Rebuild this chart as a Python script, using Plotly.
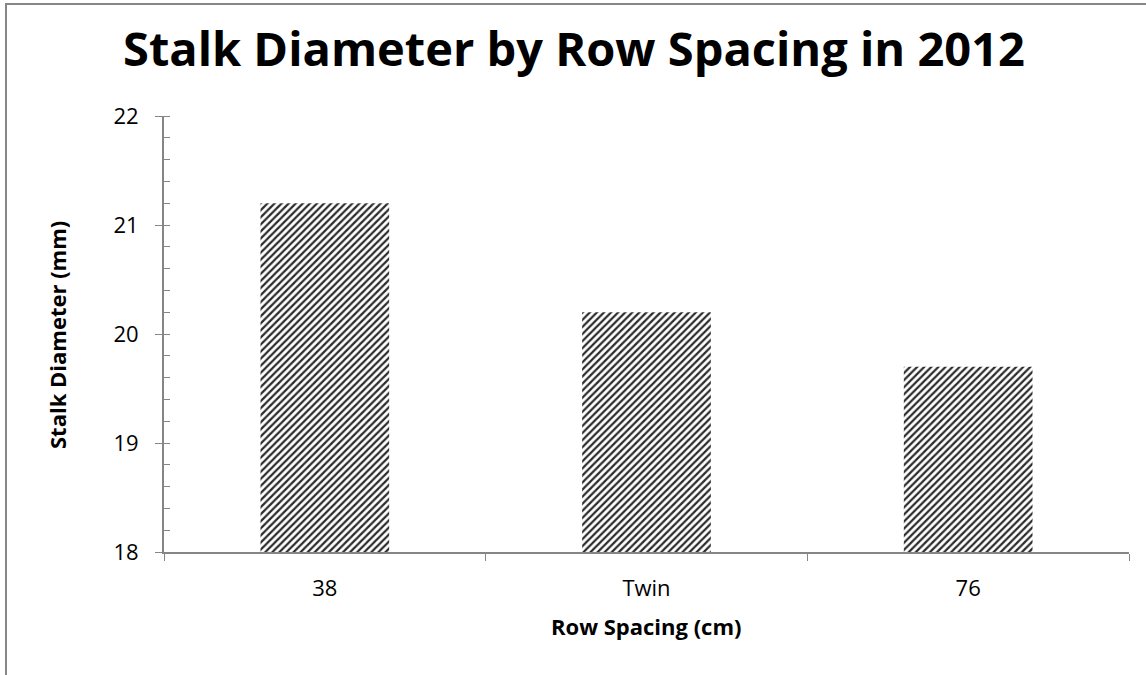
import plotly.graph_objects as go

# Stalk diameter means per row-spacing treatment, 2012
categories = ["38", "Twin", "76"]
stalk_diameter_mm = [21.2, 20.2, 19.7]
y_ticks = [18, 19, 20, 21, 22]

W, H = 1146, 675
L, R, T, B = 164, 1129, 116, 552  # plot-area edges in pixels

def px_x(px):
    return (px - L) / (R - L)

def px_y(py):
    return (B - py) / (B - T)

AXIS = "#868686"
FONT = "Open Sans, Calibri, Carlito, sans-serif"

fig = go.Figure(
    go.Bar(
        x=categories,
        y=stalk_diameter_mm,
        width=0.4,
        marker=dict(
            color="white",
            line=dict(width=0),
            pattern=dict(shape="/", fgcolor="#2b2b2b", bgcolor="white",
                         size=5, solidity=0.45, fillmode="replace"),
        ),
    )
)

fig.update_layout(
    width=W, height=H,
    margin=dict(l=L, r=W - R, t=T, b=H - B, pad=0),
    paper_bgcolor="white",
    plot_bgcolor="white",
    showlegend=False,
    bargap=0.6,
    font=dict(family=FONT, color="black"),
)

fig.update_xaxes(
    showline=True, linecolor=AXIS, linewidth=2,
    ticks="outside", tickson="boundaries", ticklen=7, tickcolor=AXIS, tickwidth=1,
    tickfont=dict(size=22, family=FONT, color="black"),
    showgrid=False, zeroline=False,
    ticklabelstandoff=16,
)

fig.update_yaxes(
    range=[18, 22],
    tickvals=y_ticks,
    showline=True, linecolor=AXIS, linewidth=2,
    ticks="outside", ticklen=7, tickcolor=AXIS, tickwidth=1,
    minor=dict(ticks="inside", dtick=0.2, ticklen=6, tickcolor=AXIS, tickwidth=1, showgrid=False),
    tickfont=dict(size=22, family=FONT, color="black"),
    showgrid=False, zeroline=False,
    ticklabelstandoff=12,
)

annotations = [
    dict(text="<b>Stalk Diameter by Row Spacing in 2012</b>", x=px_x(574), y=px_y(48),
         xref="paper", yref="paper", showarrow=False,
         xanchor="center", yanchor="middle",
         font=dict(size=47, family=FONT, color="black")),
    dict(text="<b>Row Spacing (cm)</b>", x=px_x(646), y=px_y(626),
         xref="paper", yref="paper", showarrow=False,
         xanchor="center", yanchor="middle",
         font=dict(size=22, family=FONT, color="black")),
    dict(text="<b>Stalk Diameter (mm)</b>", x=px_x(57), y=px_y(335),
         xref="paper", yref="paper", showarrow=False, textangle=-90,
         xanchor="center", yanchor="middle",
         font=dict(size=22, family=FONT, color="black")),
]
fig.update_layout(annotations=annotations)

# Chart-area frame
fig.add_shape(type="rect", xref="paper", yref="paper",
              x0=px_x(6), x1=px_x(1160), y0=px_y(4), y1=px_y(690),
              line=dict(color=AXIS, width=2), fillcolor="rgba(0,0,0,0)", layer="below")

fig.write_html("out.html")
